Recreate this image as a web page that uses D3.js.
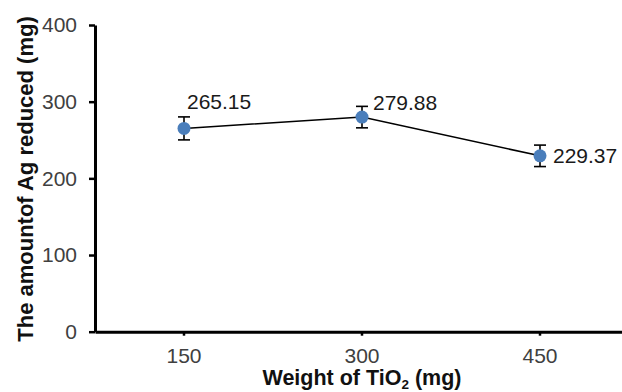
<!DOCTYPE html>
<html>
<head>
<meta charset="utf-8">
<script src="https://cdn.jsdelivr.net/npm/d3@7"></script>
<style>
  html, body { margin: 0; padding: 0; background: #fff; }
  svg { display: block; }
  text { font-family: "Liberation Sans", Arial, sans-serif; }
</style>
</head>
<body>
<svg id="chart" width="622" height="392"></svg>
<script>
// TiO2 weight (mg) categories and the mean amount of Ag reduced (mg)
const categories = ["150", "300", "450"];
const agReduced = [265.15, 279.88, 229.37];
const errors = [15, 14, 14];
const yTicks = [0, 100, 200, 300, 400];
// where each value label sits relative to its point
const labelPlacement = ["above", "upperRight", "right"];

const W = 622, H = 392;
const margin = { left: 95, top: 25, bottom: 60 };
const plotRight = 629;

const svg = d3.select("#chart");

const x = d3.scaleBand().domain(categories).range([margin.left, plotRight]).padding(0);
const y = d3.scaleLinear().domain([0, 400]).range([H - margin.bottom - 0.3, margin.top]);
const cx = c => x(c) + x.bandwidth() / 2;

// Y axis
const yAxis = svg.append("g")
  .attr("transform", `translate(${margin.left},0)`)
  .call(d3.axisLeft(y).tickValues(yTicks).tickSize(6).tickSizeOuter(0).tickPadding(12));
yAxis.select(".domain").attr("stroke", "#000").attr("stroke-width", 3);
yAxis.selectAll(".tick line").attr("stroke", "#000").attr("stroke-width", 2.5);
yAxis.selectAll(".tick text")
  .attr("font-size", 21).attr("fill", "#404040")
  .attr("font-family", "Liberation Sans, Arial, sans-serif");

// X axis
const xAxis = svg.append("g")
  .attr("transform", `translate(0,${y(0)})`)
  .call(d3.axisBottom(x).tickSize(4).tickSizeOuter(0).tickPadding(12));
xAxis.select(".domain").attr("stroke", "#000").attr("stroke-width", 3);
xAxis.selectAll(".tick line").attr("stroke", "#000").attr("stroke-width", 2.5);
xAxis.selectAll(".tick text")
  .attr("font-size", 21).attr("fill", "#404040")
  .attr("font-family", "Liberation Sans, Arial, sans-serif");

// Axis titles
svg.append("text")
  .attr("x", (margin.left + plotRight) / 2)
  .attr("y", 385)
  .attr("text-anchor", "middle")
  .attr("font-size", 21.5).attr("font-weight", "bold").attr("fill", "#111")
  .call(t => {
    t.append("tspan").text("Weight of TiO");
    t.append("tspan").text("2").attr("font-size", 13.5).attr("dy", 4);
    t.append("tspan").text(" (mg)").attr("dy", -4);
  });

svg.append("text")
  .attr("transform", "translate(33,179) rotate(-90)")
  .attr("text-anchor", "middle")
  .attr("font-size", 22).attr("font-weight", "bold").attr("fill", "#111")
  .text("The amountof  Ag reduced (mg)");

// Connecting line
const line = d3.line().x((d, i) => cx(categories[i])).y(d => y(d));
svg.append("path")
  .datum(agReduced)
  .attr("d", line)
  .attr("fill", "none").attr("stroke", "#000").attr("stroke-width", 1.5);

// Error bars
const capHalf = 6;
const eb = svg.append("g").attr("stroke", "#000").attr("stroke-width", 1.6);
agReduced.forEach((v, i) => {
  const px = cx(categories[i]);
  const top = y(v + errors[i]), bot = y(v - errors[i]);
  eb.append("line").attr("x1", px).attr("x2", px).attr("y1", top).attr("y2", bot);
  eb.append("line").attr("x1", px - capHalf).attr("x2", px + capHalf).attr("y1", top).attr("y2", top);
  eb.append("line").attr("x1", px - capHalf).attr("x2", px + capHalf).attr("y1", bot).attr("y2", bot);
});

// Markers
svg.append("g").selectAll("circle")
  .data(agReduced)
  .join("circle")
  .attr("cx", (d, i) => cx(categories[i]))
  .attr("cy", d => y(d))
  .attr("r", 6.5)
  .attr("fill", "#4a7ebb");

// Value labels
const offsets = {
  above: { dx: 3, dy: -19 },
  upperRight: { dx: 11, dy: -7 },
  right: { dx: 13, dy: 7 }
};
svg.append("g").selectAll("text")
  .data(agReduced)
  .join("text")
  .attr("x", (d, i) => cx(categories[i]) + offsets[labelPlacement[i]].dx)
  .attr("y", (d, i) => y(d) + offsets[labelPlacement[i]].dy)
  .attr("font-size", 21).attr("fill", "#1a1a1a")
  .text(d => d.toFixed(2));
</script>
</body>
</html>
